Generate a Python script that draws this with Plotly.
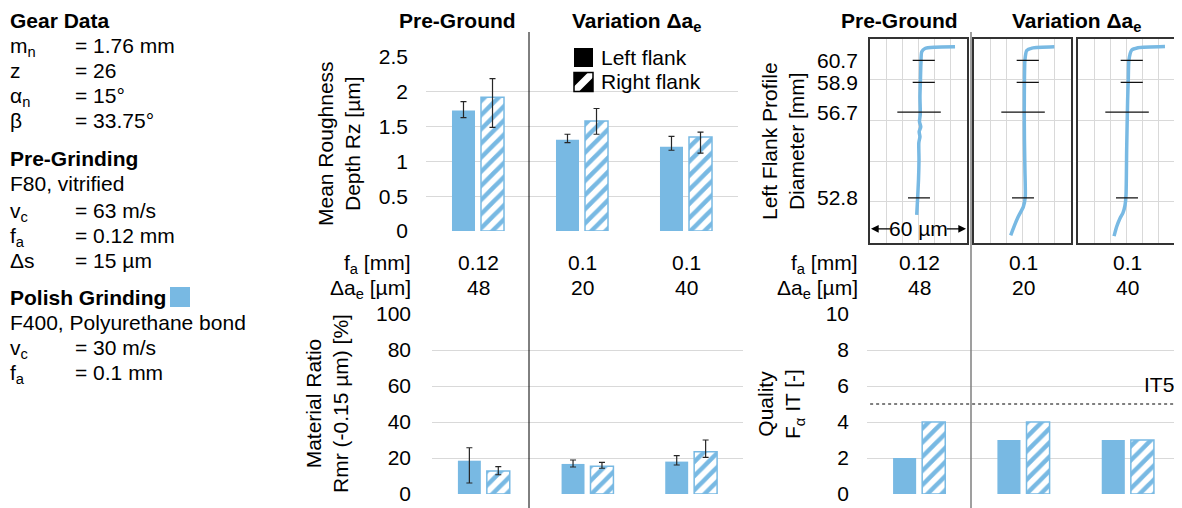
import plotly.graph_objects as go

# ---------------- data ----------------
fa_labels = ["0.12", "0.1", "0.1"]
dae_labels = ["48", "20", "40"]
cond_x = [0, 1, 2]

rz_left = [1.73, 1.31, 1.21]
rz_left_plus = [0.13, 0.08, 0.15]
rz_left_minus = [0.10, 0.04, 0.05]
rz_right = [1.92, 1.58, 1.35]
rz_right_plus = [0.27, 0.18, 0.07]
rz_right_minus = [0.43, 0.19, 0.23]

rmr_left = [18.5, 16.7, 18.0]
rmr_left_plus = [7.2, 2.2, 3.3]
rmr_left_minus = [12.4, 1.7, 1.9]
rmr_right = [12.8, 15.4, 23.5]
rmr_right_plus = [2.4, 2.2, 6.5]
rmr_right_minus = [2.1, 1.1, 3.1]

q_left = [2, 3, 3]
q_right = [4, 4, 3]
it5_limit = 5

# profile curves (x: deviation in um, y: position along profile)
prof1_x = [28.9, 29.4, 30.0, 30.3, 30.2, 30.9, 30.4, 31.4, 30.6, 31.1, 30.9, 31.2, 31.5, 32.0, 34.0, 40.2, 52.6]
prof1_y = [0.68, 1.05, 1.54, 2.03, 2.45, 2.60, 2.72, 2.84, 2.97, 3.15, 3.58, 3.99, 4.40, 4.68, 4.76, 4.79, 4.80]
prof2_x = [22.7, 24.7, 27.4, 30.5, 31.7, 31.5, 31.2, 31.1, 31.2, 31.5, 32.6, 35.9, 49.7]
prof2_y = [0.18, 0.39, 0.64, 0.88, 1.12, 1.78, 2.52, 3.25, 3.99, 4.48, 4.71, 4.77, 4.80]
prof3_x = [22.3, 23.9, 26.0, 27.8, 29.1, 29.7, 30.1, 30.7, 31.1, 31.5, 33.2, 37.1, 53.8]
prof3_y = [0.16, 0.39, 0.60, 0.73, 0.92, 1.17, 2.27, 3.50, 3.99, 4.48, 4.72, 4.78, 4.81]

diam_labels = ["60.7", "58.9", "56.7", "52.8"]
diam_pos = [4.47, 3.93, 3.20, 1.10]
tol_lo = [26.4, 26.4, 16.9, 23.5]
tol_hi = [40.1, 40.1, 43.8, 37.1]

# ---------------- style ----------------
W, H = 1182, 508
OFF = 8  # page body margin offset
BLUE = "#78B9E3"
GRID = "#d9d9d9"
FONT = "Liberation Sans, Arial, sans-serif"
FS = 21
ERRC = "#262626"


def px(x):
    return (x - OFF) / W


def py(y):
    return 1 - (y - OFF) / H


fig = go.Figure()


def bars(xa, ya, left, right, lp=None, lm=None, rp=None, rm=None):
    kw_l = dict(x=cond_x, y=left, xaxis=xa, yaxis=ya, marker=dict(color=BLUE, line=dict(width=0)),
                showlegend=False, offsetgroup="L")
    if lp is not None:
        kw_l["error_y"] = dict(type="data", symmetric=False, array=lp, arrayminus=lm,
                               color=ERRC, thickness=1.2, width=3)
    fig.add_trace(go.Bar(**kw_l))
    kw_r = dict(x=cond_x, y=right, xaxis=xa, yaxis=ya, showlegend=False, offsetgroup="R",
                marker=dict(color=BLUE, line=dict(color=BLUE, width=1.5),
                            pattern=dict(shape="/", fillmode="replace", bgcolor="white",
                                         fgcolor=BLUE, size=10, solidity=0.45)))
    if rp is not None:
        kw_r["error_y"] = dict(type="data", symmetric=False, array=rp, arrayminus=rm,
                               color=ERRC, thickness=1.2, width=3)
    fig.add_trace(go.Bar(**kw_r))


bars("x", "y", rz_left, rz_right, rz_left_plus, rz_left_minus, rz_right_plus, rz_right_minus)
bars("x2", "y2", rmr_left, rmr_right, rmr_left_plus, rmr_left_minus, rmr_right_plus, rmr_right_minus)
bars("x3", "y3", q_left, q_right)

# profile panels
for i, (pxs, pys) in enumerate([(prof1_x, prof1_y), (prof2_x, prof2_y), (prof3_x, prof3_y)]):
    xa = "x%d" % (4 + i)
    ya = "y%d" % (4 + i)
    fig.add_trace(go.Scatter(x=pxs, y=pys, xaxis=xa, yaxis=ya, mode="lines",
                             line=dict(color=BLUE, width=3.5, shape="spline", smoothing=0.6),
                             showlegend=False, hoverinfo="skip"))
    tx, ty = [], []
    for lo, hi, p in zip(tol_lo, tol_hi, diam_pos):
        tx += [lo, hi, None]
        ty += [p, p, None]
    fig.add_trace(go.Scatter(x=tx, y=ty, xaxis=xa, yaxis=ya, mode="lines",
                             line=dict(color="#111", width=1.2), showlegend=False, hoverinfo="skip"))

axfont = dict(family=FONT, size=FS, color="black")


def yax(top, bot, rng, dtick, standoff):
    return dict(domain=[py(bot), py(top)], range=rng, dtick=dtick, showgrid=True, gridcolor=GRID,
                gridwidth=1, zeroline=False, showline=False, ticks="", tickfont=axfont,
                ticklabelstandoff=standoff, fixedrange=True, automargin=False)


def xax(l, r, anchor):
    return dict(domain=[px(l), px(r)], range=[-0.5, 2.5], showgrid=False, zeroline=False,
                showline=False, showticklabels=False, ticks="", anchor=anchor, automargin=False)


def pxax(l, r, anchor):
    return dict(domain=[px(l), px(r)], range=[0, 60], dtick=10, showgrid=True, gridcolor=GRID,
                zeroline=False, showline=True, mirror=True, linecolor="#333", linewidth=1.5,
                showticklabels=False, ticks="", anchor=anchor, automargin=False)


def pyax(anchor):
    return dict(domain=[py(242.7), py(38.7)], range=[0, 5], dtick=1, showgrid=True, gridcolor=GRID,
                zeroline=False, showline=True, mirror=True, linecolor="#333", linewidth=1.5,
                showticklabels=False, ticks="", anchor=anchor, automargin=False)


fig.update_layout(
    width=W, height=H, margin=dict(l=0, r=0, t=0, b=0, pad=0, autoexpand=False),
    paper_bgcolor="white", plot_bgcolor="white",
    font=dict(family=FONT, size=FS, color="black"),
    barmode="group", bargap=0.442, bargroupgap=0.207,
    xaxis=xax(426, 738, "y"), yaxis=yax(57, 231, [0, 2.5], 0.5, 17) | dict(anchor="x"),
    xaxis2=xax(432, 743, "y2"), yaxis2=yax(314, 494, [0, 100], 20, 20) | dict(anchor="x2"),
    xaxis3=xax(867, 1180, "y3"), yaxis3=yax(314, 494, [0, 10], 2, 17) | dict(anchor="x3"),
    xaxis4=pxax(870, 967, "y4"), yaxis4=pyax("x4"),
    xaxis5=pxax(974, 1071, "y5"), yaxis5=pyax("x5"),
    xaxis6=pxax(1078, 1175, "y6"), yaxis6=pyax("x6"),
)

ann = []
shapes = []
NOPAD = dict(borderpad=0, borderwidth=0)


def txt(x, y, text, xanchor="left", yanchor="top", **kw):
    d = dict(x=px(x), y=py(y), xref="paper", yref="paper", text=text, showarrow=False,
             xanchor=xanchor, yanchor=yanchor, **NOPAD)
    d.update(kw)
    ann.append(d)


# left info panel (y = line centre)
rows = [
    ("<b>Gear Data</b>", None, 21),
    ("m<sub>n</sub>", "= 1.76 mm", 46),
    ("z", "= 26", 71),
    ("α<sub>n</sub>", "= 15°", 96),
    ("β", "= 33.75°", 121),
    ("<b>Pre-Grinding</b>", None, 159),
    ("F80, vitrified", None, 184),
    ("v<sub>c</sub>", "= 63 m/s", 211),
    ("f<sub>a</sub>", "= 0.12 mm", 236),
    ("Δs", "= 15 µm", 261),
    ("<b>Polish Grinding</b>", None, 298),
    ("F400, Polyurethane bond", None, 323),
    ("v<sub>c</sub>", "= 30 m/s", 348),
    ("f<sub>a</sub>", "= 0.1 mm", 373),
]
for lab, val, yc in rows:
    txt(10, yc - 12, lab)
    if val:
        txt(75, yc - 12, val)
shapes.append(dict(type="rect", xref="paper", yref="paper", x0=px(170), x1=px(190),
                   y0=py(307), y1=py(287), fillcolor=BLUE, line=dict(width=0)))

# titles
txt(457, 9, "<b>Pre-Ground</b>", xanchor="center")
txt(636, 9, "<b>Variation Δa<sub>e</sub></b>", xanchor="center")
txt(899, 9, "<b>Pre-Ground</b>", xanchor="center")
txt(1076, 9, "<b>Variation Δa<sub>e</sub></b>", xanchor="center")

# legend
txt(601, 57, "Left flank", yanchor="middle")
txt(601, 82, "Right flank", yanchor="middle")
shapes.append(dict(type="rect", xref="paper", yref="paper", x0=px(574), x1=px(593),
                   y0=py(67), y1=py(48), fillcolor="black", line=dict(width=0)))
x0, x1, y0, y1 = 574, 593, 72.5, 91.5
shapes.append(dict(type="rect", xref="paper", yref="paper", x0=px(x0), x1=px(x1),
                   y0=py(y1), y1=py(y0), fillcolor="white", line=dict(color="black", width=1.5)))
o = 5
shapes.append(dict(type="path", xref="paper", yref="paper", fillcolor="black", line=dict(width=0),
                   path="M %f %f L %f %f L %f %f Z" % (px(x0), py(y0), px(x1 - o), py(y0), px(x0), py(y1 - o))))
shapes.append(dict(type="path", xref="paper", yref="paper", fillcolor="black", line=dict(width=0),
                   path="M %f %f L %f %f L %f %f Z" % (px(x1), py(y1), px(x0 + o), py(y1), px(x1), py(y0 + o))))


# axis titles
def vtitle(x, y, text):
    ann.append(dict(x=px(x), y=py(y), xref="paper", yref="paper", text=text, showarrow=False,
                    textangle=-90, xanchor="center", yanchor="middle", **NOPAD))


vtitle(339, 144, "Mean Roughness<br>Depth Rz [µm]")
vtitle(327, 404, "Material Ratio<br>Rmr (-0.15 µm) [%]")
vtitle(783, 141, "Left Flank Profile<br>Diameter [mm]")
vtitle(781, 404, "Quality<br>F<sub>α</sub> IT [-]")

# condition rows
for xr, xref in [(411, "x"), (858, "x3")]:
    txt(xr, 251, "f<sub>a</sub> [mm]", xanchor="right")
    txt(xr, 276, "Δa<sub>e</sub> [µm]", xanchor="right")
    for i in cond_x:
        ann.append(dict(x=i, y=py(251), xref=xref, yref="paper", text=fa_labels[i],
                        showarrow=False, xanchor="center", yanchor="top", **NOPAD))
        ann.append(dict(x=i, y=py(276), xref=xref, yref="paper", text=dae_labels[i],
                        showarrow=False, xanchor="center", yanchor="top", **NOPAD))

# diameter labels on profile panel
for lab, p in zip(diam_labels, diam_pos):
    ann.append(dict(x=px(858), y=p, xref="paper", yref="y4", text=lab, showarrow=False,
                    xanchor="right", yanchor="middle", **NOPAD))

# 60 um scale arrows
ann.append(dict(x=0.6, y=0.34, xref="x4", yref="y4", ax=13.5, ay=0.34, axref="x4", ayref="y4",
                text="", showarrow=True, arrowhead=2, arrowsize=1.1, arrowwidth=1.4, arrowcolor="black"))
ann.append(dict(x=59.4, y=0.34, xref="x4", yref="y4", ax=46.5, ay=0.34, axref="x4", ayref="y4",
                text="", showarrow=True, arrowhead=2, arrowsize=1.1, arrowwidth=1.4, arrowcolor="black"))
ann.append(dict(x=30, y=0.34, xref="x4", yref="y4", text="60 µm", showarrow=False,
                xanchor="center", yanchor="middle", **NOPAD))

# IT5 limit
shapes.append(dict(type="line", xref="x3 domain", yref="y3", x0=0.01, x1=1, y0=it5_limit, y1=it5_limit,
                   line=dict(color="black", width=1, dash="dot")))
ann.append(dict(x=1, y=6.1, xref="x3 domain", yref="y3", text="IT5", showarrow=False,
                xanchor="right", yanchor="middle", xshift=-6, **NOPAD))

# separators
shapes.append(dict(type="line", xref="paper", yref="paper", x0=px(529), x1=px(529), y0=py(32), y1=py(508),
                   line=dict(color="black", width=1)))
shapes.append(dict(type="line", xref="paper", yref="paper", x0=px(971), x1=px(971), y0=py(32), y1=py(508),
                   line=dict(color="#7f7f7f", width=1.5)))

fig.update_layout(annotations=ann, shapes=shapes)
fig.write_html("out.html")
